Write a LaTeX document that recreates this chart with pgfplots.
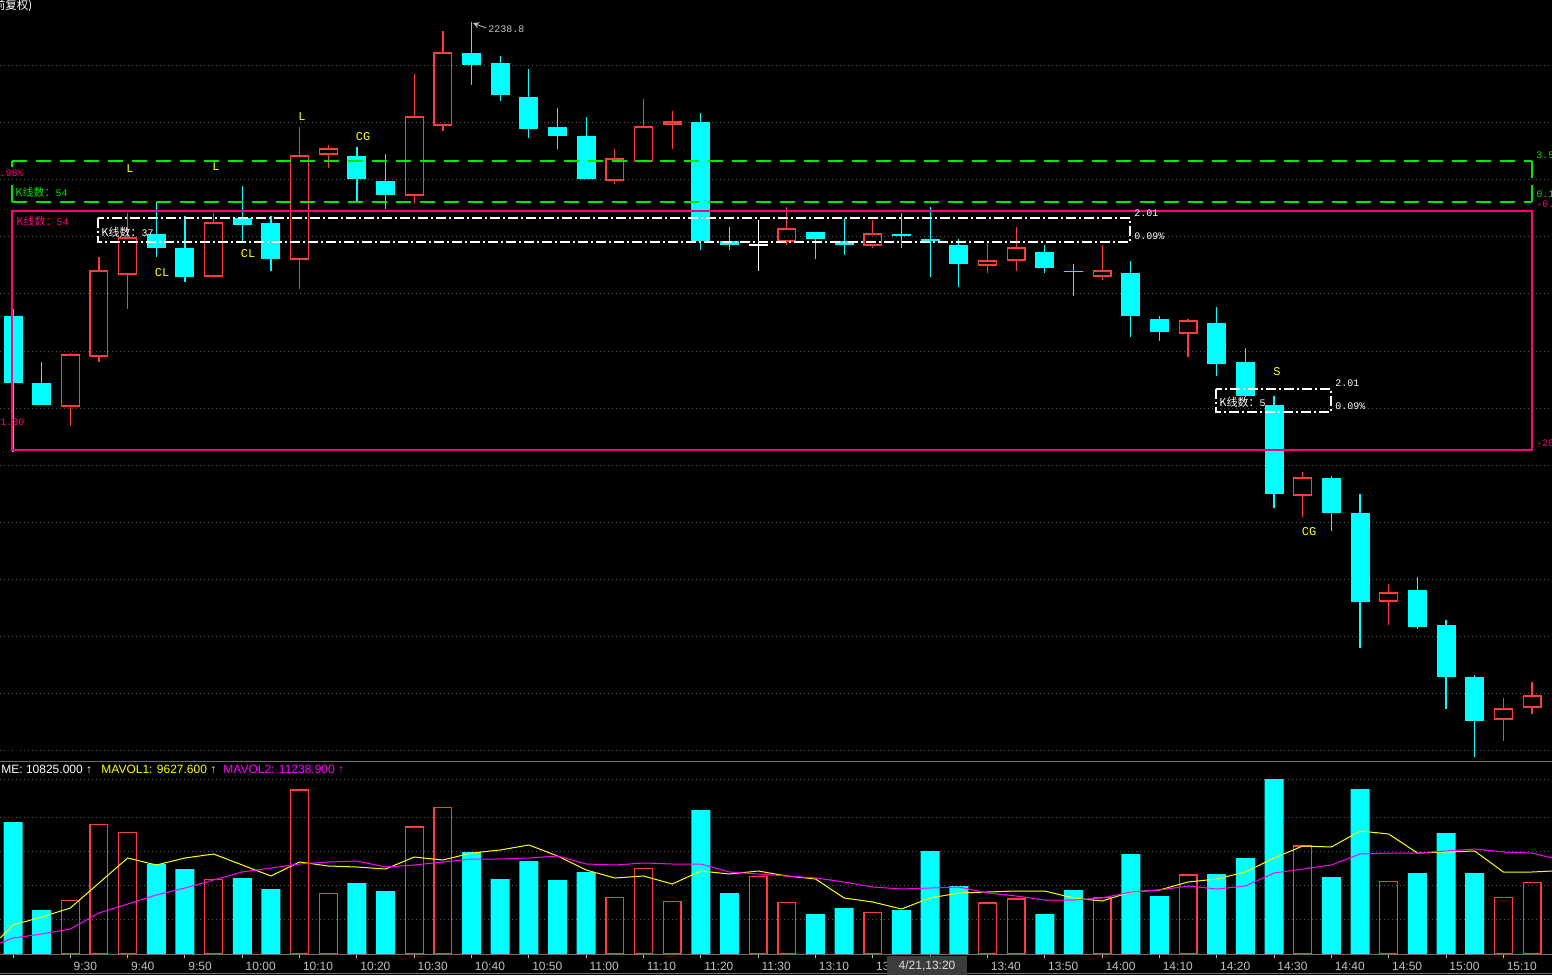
\documentclass[border=0pt]{standalone}
\usepackage{pgfplots}
\pgfplotsset{compat=1.18}
\usepackage{pgfplotstable}
\usepackage{fontspec}
\setmainfont{Liberation Sans}
\newfontfamily\mono{Liberation Mono}
\newfontfamily\cjk{Noto Sans CJK SC}

\definecolor{kcyan}{RGB}{0,255,255}
\definecolor{kred}{RGB}{255,60,60}
\definecolor{kgreen}{RGB}{0,230,0}
\definecolor{kpink}{RGB}{255,0,128}
\definecolor{kmag}{RGB}{255,0,255}
\definecolor{kyel}{RGB}{255,255,0}
\definecolor{kgrid}{RGB}{90,90,90}
\definecolor{ktxt}{RGB}{192,192,192}
\definecolor{kline}{RGB}{110,110,110}
\definecolor{kbox}{RGB}{60,60,60}

% 5 minute bars: i = bar number, o h l c = open high low close
% falling bars (cyan)
\pgfplotstableread{
i  o       h       l       c
0  2214.27 2214.85 2202.93 2208.68
1  2208.68 2210.43 2206.85 2206.85
5  2221.10 2223.77 2219.18 2219.93
6  2219.93 2222.60 2217.10 2217.52
8  2222.43 2225.10 2220.43 2221.85
9  2222.02 2222.60 2218.02 2219.02
12 2227.60 2228.35 2223.77 2225.68
13 2225.52 2227.77 2223.18 2224.35
16 2236.18 2238.80 2233.52 2235.18
17 2235.35 2235.93 2232.18 2232.68
18 2232.52 2234.85 2229.10 2229.85
19 2230.02 2231.60 2228.18 2229.27
20 2229.27 2230.85 2225.68 2225.68
24 2230.43 2231.18 2219.77 2220.52
25 2220.52 2221.68 2219.77 2220.18
28 2221.27 2221.27 2219.02 2220.68
29 2220.52 2222.43 2219.35 2220.18
31 2221.10 2222.85 2219.93 2220.93
32 2220.68 2223.35 2217.52 2220.52
33 2220.18 2220.68 2216.68 2218.60
36 2219.60 2220.18 2217.85 2218.27
37 2218.02 2218.60 2215.93 2217.93
39 2217.85 2218.85 2212.52 2214.27
40 2214.02 2214.27 2212.18 2212.93
42 2213.68 2215.02 2209.27 2210.27
43 2210.43 2211.60 2207.52 2207.60
44 2206.85 2207.60 2198.27 2199.43
46 2200.77 2200.93 2196.35 2197.85
47 2197.85 2199.43 2186.60 2190.43
49 2191.43 2192.52 2188.18 2188.35
50 2188.52 2188.93 2181.52 2184.18
51 2184.18 2184.35 2177.52 2180.52
}\dn
% rising bars (red, hollow)
\pgfplotstableread{
i  o       h       l       c
2  2206.77 2211.18 2205.10 2211.02
3  2210.93 2219.18 2210.43 2218.02
4  2217.77 2222.85 2214.85 2220.77
7  2217.60 2222.85 2217.52 2222.02
10 2219.02 2230.02 2216.52 2227.60
11 2227.77 2228.52 2226.60 2228.18
14 2224.35 2234.43 2223.68 2230.85
15 2230.18 2238.02 2229.68 2236.18
21 2225.60 2228.18 2225.27 2227.35
22 2227.18 2232.35 2227.18 2230.02
23 2230.27 2231.35 2228.18 2230.43
27 2220.52 2223.35 2220.18 2221.52
30 2220.18 2222.27 2219.93 2221.10
34 2218.52 2220.52 2217.85 2218.85
35 2218.93 2221.68 2218.02 2219.93
38 2217.60 2220.18 2217.27 2218.02
41 2212.85 2214.02 2210.85 2213.85
45 2199.35 2201.27 2197.52 2200.77
48 2190.52 2191.93 2188.52 2191.18
52 2180.68 2182.43 2178.85 2181.52
53 2181.68 2183.77 2181.10 2182.60
}\up
\pgfplotstableread{
i  o       h       l       c
26 2220.18 2222.27 2218.02 2220.18
}\doji

% volume
\pgfplotstableread{
i  v
0  19800
1  6600
5  13500
6  12750
8  11400
9  9750
12 10650
13 9450
16 15300
17 11250
18 13950
19 11100
20 12300
24 21600
25 9150
28 6000
29 6900
31 6600
32 15450
33 10200
36 6000
37 9600
39 15000
40 8700
42 12000
43 14400
44 26250
46 11550
47 24750
49 12150
50 18150
51 12150
}\vdn
\pgfplotstableread{
i  v
2  8050
3  19450
4  18250
7  11200
10 24600
11 9100
14 19050
15 22000
21 8500
22 12850
23 7900
26 11650
27 7750
30 6250
34 7650
35 8250
38 8500
41 11850
45 16200
48 10900
52 8500
53 10750
}\vup
\pgfplotstableread{
i      ma5   ma10
-0.45  2400  1650
0      4350  2400
1      5550  3000
2      6900  3750
3      10650 6150
4      14400 7500
5      13350 8850
6      14400 9900
7      15000 11100
8      13350 12300
9      11700 12900
10     13800 13500
11     13200 13800
12     13050 13950
13     12750 13050
14     14550 13350
15     14100 13800
16     15150 14250
17     15600 14250
18     16350 14400
19     14700 14700
20     12600 13500
21     11400 13350
22     11700 13650
23     10500 13500
24     12450 13500
25     12000 12300
26     12450 12000
27     11700 11700
28     11250 11400
29     8400  10800
30     7800  10050
31     6750  9750
32     8400  9900
33     9150  10050
34     9300  9150
35     9450  8700
36     9450  8100
37     8400  8100
38     7950  8400
39     9300  9300
40     9600  9600
41     10800 10200
42     11250 9750
43     12300 10200
44     14400 12150
45     16200 12750
46     16050 13350
47     18450 15000
48     18000 15150
49     15150 15150
50     15300 15450
51     15450 15750
52     12300 15300
53     12300 15150
53.7   12450 14400
}\mavol

\pgfplotsset{
  wick/.style={draw=none, mark=none, forget plot,
    error bars/y dir=plus, error bars/y explicit, error bars/error mark=none,
    error bars/error bar style={draw=#1, line width=0.6pt}},
  body/.style={draw=none, mark=none, forget plot,
    error bars/y dir=plus, error bars/y explicit, error bars/error mark=none,
    error bars/error bar style={draw=kcyan, line width=9.5pt}},
  edge/.style={draw=none, mark=none, forget plot,
    error bars/y dir=plus, error bars/y explicit, error bars/error mark=none,
    error bars/error bar style={draw=kred, line width=0.6pt, xshift=#1}},
  cap/.style={only marks, mark=-, mark size=4.75pt, forget plot,
    mark options={draw=#1, line width=0.6pt}},
}
\newcommand\ann{\fontsize{5}{6}\selectfont\mono}
\newcommand\kx{\fontsize{5.5}{6}\selectfont\cjk}
\newcommand\sig{\fontsize{6}{7}\selectfont\mono}

\begin{document}
\begin{tikzpicture}
\fill[black] (0,0) rectangle (776pt,487.5pt);
\useasboundingbox (0,0) rectangle (776pt,487.5pt);

% price panel
\begin{axis}[
  at={(0pt,107.5pt)}, anchor=south west,
  scale only axis, width=776pt, height=380pt,
  xmin=-0.4536, xmax=53.698, ymin=2177.267, ymax=2240.6,
  axis line style={draw=none},
  xtick=\empty,
  ytick={2178.02,2182.77,2187.52,2192.27,2197.02,2201.77,2206.52,2211.27,2216.1,2220.85,2225.6,2230.35,2235.1},
  yticklabels={}, ytick style={draw=none},
  ymajorgrids,
  grid style={kgrid, line width=0.5pt, dash pattern=on 0.5pt off 1.5pt},
]
\addplot[wick=kcyan] table[x=i, y=l, y error expr=\thisrow{h}-\thisrow{l}] {\dn};
\addplot[body] table[x=i, y=c, y error expr=\thisrow{o}-\thisrow{c}] {\dn};
\addplot[wick=kred] table[x=i, y=c, y error expr=\thisrow{h}-\thisrow{c}] {\up};
\addplot[wick=kred] table[x=i, y=l, y error expr=\thisrow{o}-\thisrow{l}] {\up};
\addplot[edge=-4.45pt] table[x=i, y=o, y error expr=\thisrow{c}-\thisrow{o}] {\up};
\addplot[edge=4.45pt] table[x=i, y=o, y error expr=\thisrow{c}-\thisrow{o}] {\up};
\addplot[cap=kred] table[x=i, y=o] {\up};
\addplot[cap=kred] table[x=i, y=c] {\up};
\addplot[wick=white] table[x=i, y=l, y error expr=\thisrow{h}-\thisrow{l}] {\doji};
\addplot[cap=white] table[x=i, y=o] {\doji};
\end{axis}

% volume panel
\begin{axis}[
  at={(0pt,10.5pt)}, anchor=south west,
  scale only axis, width=776pt, height=96pt,
  xmin=-0.4536, xmax=53.698, ymin=0, ymax=28800,
  axis line style={draw=none},
  xtick={0,2,...,52},
  xticklabels={,9:30,9:40,9:50,10:00,10:10,10:20,10:30,10:40,10:50,11:00,11:10,11:20,11:30,13:10,13,,13:40,13:50,14:00,14:10,14:20,14:30,14:40,14:50,15:00,15:10},
  xtick pos=left, tick align=outside, major tick length=2pt,
  xtick style={ktxt, line width=0.5pt},
  xticklabel style={font=\fontsize{6}{7}\selectfont, text=ktxt, anchor=north west, inner sep=0pt, xshift=1.5pt, yshift=-2pt},
  ytick={5250,10350,15450,20550,26250}, yticklabels={}, ytick style={draw=none},
  ymajorgrids,
  grid style={kgrid, line width=0.5pt, dash pattern=on 0.5pt off 1.5pt},
]
\addplot[ybar, bar width=9.5pt, bar shift=0pt, fill=kcyan, draw=none] table[x=i, y=v] {\vdn};
\addplot[ybar, bar width=8.9pt, bar shift=0pt, fill=none, draw=kred, line width=0.6pt] table[x=i, y=v] {\vup};
\addplot[kyel, line width=0.5pt] table[x=i, y=ma5] {\mavol};
\addplot[kmag, line width=0.5pt] table[x=i, y=ma10] {\mavol};
\end{axis}

% overlays, in pixel units of the 1552 x 975 screen
\begin{scope}[x=0.5pt, y=-0.5pt, yshift=487.5pt, t/.style={anchor=west, inner sep=0pt}]
\draw[kline, line width=0.5pt] (0,761.5) -- (1552,761.5);
\draw[kline, line width=0.5pt] (0,954.5) -- (1552,954.5);
\draw[kline, line width=0.5pt] (0,973.5) -- (1552,973.5);

% statistics boxes
\draw[kgreen, line width=0.6pt, dash pattern=on 7.5pt off 4.5pt] (12,161) -- (1532,161) (12,202) -- (1532,202);
\draw[kgreen, line width=0.6pt] (12,161) -- (12,167) (12,185) -- (12,202) (1532,161) -- (1532,178) (1532,185) -- (1532,202);
\draw[kpink, line width=0.6pt] (12,211) rectangle (1532,450);
\draw[white, line width=0.6pt, dash pattern=on 5pt off 1.5pt on 1pt off 1.5pt] (98,218) rectangle (1130,242);
\draw[white, line width=0.6pt, dash pattern=on 5pt off 1.5pt on 1pt off 1.5pt] (1216,389) rectangle (1331,412);

\node[t, text=kgreen] at (15,192) {\kx K线数：\ann 54};
\node[t, text=kpink] at (16,221) {\kx K线数：\ann 54};
\node[t, text=white] at (101,232) {\kx K线数：\ann 37};
\node[t, text=white] at (1219,402) {\kx K线数：\ann 5};
\node[t, text=white] at (1134,213) {\ann 2.01};
\node[t, text=white] at (1134,236) {\ann 0.09\%};
\node[t, text=white] at (1335,383) {\ann 2.01};
\node[t, text=white] at (1335,406) {\ann 0.09\%};
\node[anchor=east, inner sep=0pt, text=kpink] at (24,173) {\ann -0.98\%};
\node[t, text=kpink] at (0,422) {\ann 1.30};
\node[t, text=kgreen] at (1536,155) {\ann 3.50};
\node[t, text=kgreen] at (1536,194) {\ann 0.10};
\node[t, text=kpink] at (1536,204) {\ann -0.40};
\node[t, text=kpink] at (1536,443) {\ann -20.0};

% signals
\node[inner sep=0pt, text=kyel] at (130,169) {\sig L};
\node[inner sep=0pt, text=kyel] at (216,167) {\sig L};
\node[inner sep=0pt, text=kyel] at (302,117) {\sig L};
\node[inner sep=0pt, text=kyel] at (363,137) {\sig CG};
\node[inner sep=0pt, text=kyel] at (162,273) {\sig CL};
\node[inner sep=0pt, text=kyel] at (248,254) {\sig CL};
\node[inner sep=0pt, text=kyel] at (1277,372) {\sig S};
\node[inner sep=0pt, text=kyel] at (1309,532) {\sig CG};

% high mark
\draw[ktxt, line width=0.4pt, <-, >=stealth] (473,23) -- (486,28);
\node[t, text=ktxt] at (488,29) {\ann 2238.8};

\node[t, text=white] at (-6.5,6) {\fontsize{5.75}{6}\selectfont\cjk 前复权)};

% volume legend
\node[t, text=white] at (1,769.5) {\fontsize{6}{7}\selectfont ME: 10825.000 ↑};
\node[t, text=kyel] at (101,769.5) {\fontsize{6}{7}\selectfont MAVOL1: 9627.600 ↑};
\node[t, text=kmag] at (223,769.5) {\fontsize{6}{7}\selectfont MAVOL2: 11238.900 ↑};

% cursor time
\fill[kbox] (887,956) rectangle (967,975);
\node[inner sep=0pt, text=white!88!black] at (927,966) {\fontsize{6}{7}\selectfont 4/21,13:20};
\end{scope}
\end{tikzpicture}
\end{document}
